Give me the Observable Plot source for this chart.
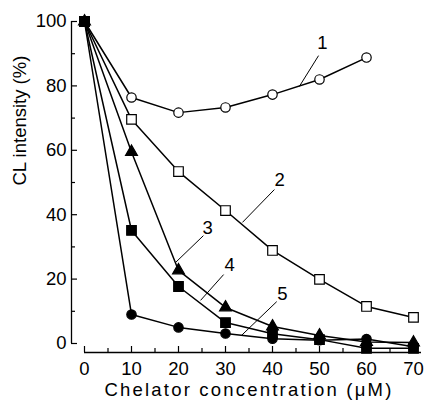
<!DOCTYPE html>
<html><head><meta charset="utf-8">
<script src="https://cdn.jsdelivr.net/npm/d3@7"></script>
<script src="https://cdn.jsdelivr.net/npm/@observablehq/plot@0.6"></script>
<style>body{margin:0;background:#fff}</style>
</head><body><div id="chart"></div>
<script>
// Chelator concentration (µM)
const conc = [0, 10, 20, 30, 40, 50, 60, 70];
// CL intensity (%) for each curve
const curve1 = [100, 76.4, 71.7, 73.3, 77.3, 82.0, 88.8];
const curve2 = [100, 69.6, 53.4, 41.3, 28.9, 19.9, 11.5, 8.1];
const curve3 = [100, 59.5, 22.7, 11.2, 5.3, 2.5, 0.5, 0.3];
const curve4 = [100, 35.1, 17.7, 6.5, 3.0, 1.2, -1.5, -1.5];
const curve5 = [100, 9.0, 5.0, 3.1, 1.5, 1.0, 1.4, -1.0];
const curveNames = ["1", "2", "3", "5", "4"];
const curveValues = [curve1, curve2, curve3, curve5, curve4];
const curveSymbols = ["circle", "square", "triangle", "circle", "square"];
const curveFilled = [false, false, true, true, true];

// axis ticks
const xMajor = [0, 10, 20, 30, 40, 50, 60, 70];
const xMinor = [5, 15, 25, 35, 45, 55, 65];
const yMajor = [0, 20, 40, 60, 80, 100];
const yMinor = [10, 30, 50, 70, 90];

// curve labels with leader lines (data coordinates)
const labelText = ["1", "2", "3", "4", "5"];
const labelX = [50.6, 41.5, 26.2, 30.9, 42.1];
const labelY = [93.2, 50.6, 36.0, 24.2, 15.5];
const leaderX1 = [49.8, 40.4, 25.3, 29.6, 40.9];
const leaderY1 = [89.4, 47.8, 33.5, 21.4, 13.0];
const leaderX2 = [45.7, 33.6, 19.4, 24.7, 33.4];
const leaderY2 = [79.8, 37.6, 25.2, 13.4, 2.5];

const rows = [];
curveValues.forEach((vals, s) => {
  vals.forEach((v, i) => rows.push({curve: curveNames[s], x: conc[i], y: v,
    symbol: curveSymbols[s], filled: curveFilled[s]}));
});
const labels = labelText.map((t, i) => ({t, x: labelX[i], y: labelY[i],
  x1: leaderX1[i], y1: leaderY1[i], x2: leaderX2[i], y2: leaderY2[i]}));

const W = 428, H = 405, mL = 84, mR = 15, mT = 21, mB = 62;
const frameW = W - mL - mR, frameH = H - mT - mB;
const font = "Liberation Sans, Arial, Helvetica, sans-serif";

const dotR = {circle: 4.7, square: 5.4, triangle: 4.4};

const chart = Plot.plot({
  width: W, height: H,
  marginLeft: mL, marginRight: mR, marginTop: mT, marginBottom: mB,
  style: {fontFamily: font, background: "#fff", color: "#000"},
  x: {domain: [0, 70], axis: null},
  y: {domain: [0, 100], axis: null},
  r: {type: "identity"},
  symbol: {type: "identity"},
  marks: [
    // y axis line and ticks (ticks point inward)
    Plot.ruleX([0], {dx: -13, stroke: "#000", strokeWidth: 1.3}),
    Plot.tickY(yMajor, {y: d => d, insetRight: frameW - 6, dx: -13, stroke: "#000", strokeWidth: 1.2}),
    Plot.tickY(yMinor, {y: d => d, insetRight: frameW - 4, dx: -13, stroke: "#000", strokeWidth: 1.2}),
    Plot.text(yMajor, {x: 0, y: d => d, dx: -18, textAnchor: "end", text: d => String(d), fontSize: 18.5, fill: "#000"}),
    // x axis line and ticks
    Plot.ruleY([0], {dy: 9, insetRight: -8, stroke: "#000", strokeWidth: 1.3}),
    Plot.tickX(xMajor, {x: d => d, insetTop: frameH - 6, dy: 9, stroke: "#000", strokeWidth: 1.2}),
    Plot.tickX(xMinor, {x: d => d, insetTop: frameH - 4, dy: 9, stroke: "#000", strokeWidth: 1.2}),
    Plot.text(xMajor, {x: d => d, y: 0, dy: 26, text: d => String(d), fontSize: 18.5, fill: "#000"}),
    // axis titles
    Plot.text(["CL intensity (%)"], {frameAnchor: "left", lineAnchor: "middle", rotate: -90, dx: -64, dy: 3, fontSize: 18.5, fill: "#000"}),
    Plot.text(["Chelator concentration (\u03bcM)"], {frameAnchor: "bottom", lineAnchor: "middle", dy: 47, fontSize: 18.5, fill: "#000"}),
    // curves
    Plot.line(rows, {x: "x", y: "y", z: "curve", stroke: "#000", strokeWidth: 1.5}),
    Plot.dot(rows, {x: "x", y: "y", symbol: "symbol",
      r: d => dotR[d.symbol],
      fill: d => d.filled ? "#000" : "#fff",
      stroke: "#000", strokeWidth: 1.2}),
    // curve labels
    Plot.link(labels, {x1: "x1", y1: "y1", x2: "x2", y2: "y2", stroke: "#000", strokeWidth: 1}),
    Plot.text(labels, {x: "x", y: "y", text: "t", fontSize: 18.5, fill: "#000"})
  ]
});
d3.select(chart).selectAll("text")
  .filter(function() { return this.textContent.startsWith("Chelator"); })
  .attr("letter-spacing", "2.2px");
document.getElementById("chart").append(chart);
</script>
</body></html>
